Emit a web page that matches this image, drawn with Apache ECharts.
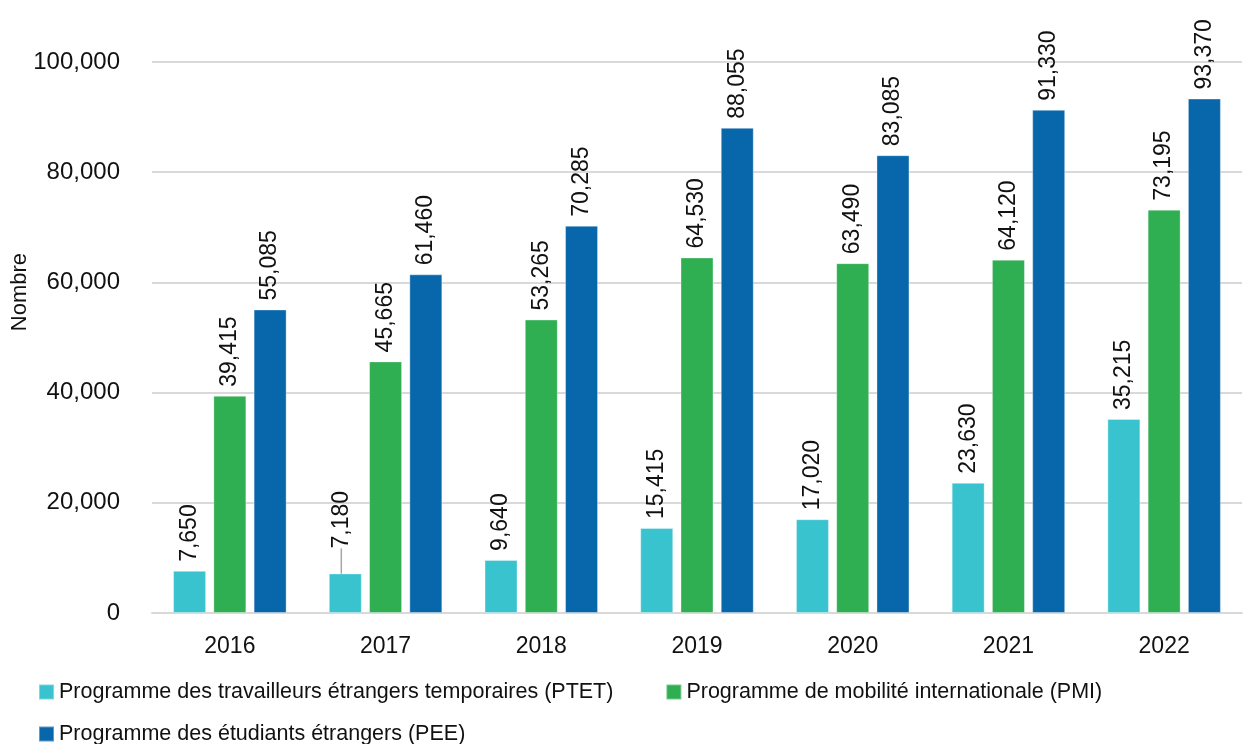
<!DOCTYPE html>
<html>
<head>
    <meta charset="UTF-8">
    <title>Programmes</title>
    <script src="https://cdn.jsdelivr.net/npm/echarts@6/dist/echarts.min.js"></script>
</head>
<body style="margin: 0">
<div id="container" style="width: 1243px; height: 744px;"></div>
<script type="text/javascript">
    var years = ['2016', '2017', '2018', '2019', '2020', '2021', '2022'];
    var ptet = [7650, 7180, 9640, 15415, 17020, 23630, 35215];
    var pmi = [39415, 45665, 53265, 64530, 63490, 64120, 73195];
    var pee = [55085, 61460, 70285, 88055, 83085, 91330, 93370];
    var names = [
        'Programme des travailleurs étrangers temporaires (PTET)',
        'Programme de mobilité internationale (PMI)',
        'Programme des étudiants étrangers (PEE)'
    ];

    var font = 'Liberation Sans';
    var myChart = echarts.init(document.getElementById('container'));

    var labelOption = {
        show: true,
        position: 'top',
        rotate: 90,
        align: 'left',
        verticalAlign: 'middle',
        distance: 9,
        color: '#111',
        fontSize: 23,
        fontFamily: font,
        formatter: function (p) {
            return p.value.toLocaleString('en-US');
        }
    };

    function makeSeries(name, data, color) {
        return {
            name: name,
            type: 'bar',
            barWidth: 33,
            barGap: '22%',
            data: data.map(function (v, i) {
                // 2017 PTET label has a leader line in the original
                if (name === names[0] && i === 1) {
                    return {value: v, labelLine: {show: true, lineStyle: {color: '#a6a6a6', width: 1.5}}};
                }
                return v;
            }),
            itemStyle: {color: color, borderColor: 'rgba(255,255,255,0.35)', borderWidth: 1},
            label: labelOption
        };
    }

    var legendText = {fontSize: 21.5, color: '#111', fontFamily: font};

    var option = {
        animation: false,
        textStyle: {fontFamily: font},
        grid: {left: 152, right: 1, top: 62, bottom: 131},
        legend: [{
            data: [names[0], names[1]],
            left: 33, top: 676,
            itemWidth: 15, itemHeight: 15, itemGap: 52,
            icon: 'rect',
            textStyle: legendText
        }, {
            data: [names[2]],
            left: 33, top: 718,
            itemWidth: 15, itemHeight: 15,
            icon: 'rect',
            textStyle: legendText
        }],
        graphic: [{
            type: 'text',
            left: 9, top: 253,
            rotation: Math.PI / 2,
            style: {text: 'Nombre', font: '22px "Liberation Sans"', fill: '#111'}
        }],
        xAxis: {
            type: 'category',
            data: years,
            axisTick: {show: false},
            axisLine: {lineStyle: {color: '#d9d9d9', width: 2}},
            axisLabel: {fontSize: 23, color: '#111', margin: 22, fontFamily: font}
        },
        yAxis: {
            type: 'value',
            min: 0, max: 100000, interval: 20000,
            axisLabel: {
                fontSize: 24, color: '#111', margin: 32, fontFamily: font,
                formatter: function (v) { return v.toLocaleString('en-US'); }
            },
            splitLine: {lineStyle: {color: '#d9d9d9', width: 2}}
        },
        labelLayout: function (params) {
            // offsets are in the rotated label frame
            if (params.seriesIndex === 0 && params.dataIndex === 1) {
                return {dx: 16, dy: -4};
            }
        },
        series: [
            makeSeries(names[0], ptet, '#38c3cf'),
            makeSeries(names[1], pmi, '#2fae52'),
            makeSeries(names[2], pee, '#0867aa')
        ]
    };
    myChart.setOption(option);
</script>
</body>
</html>
